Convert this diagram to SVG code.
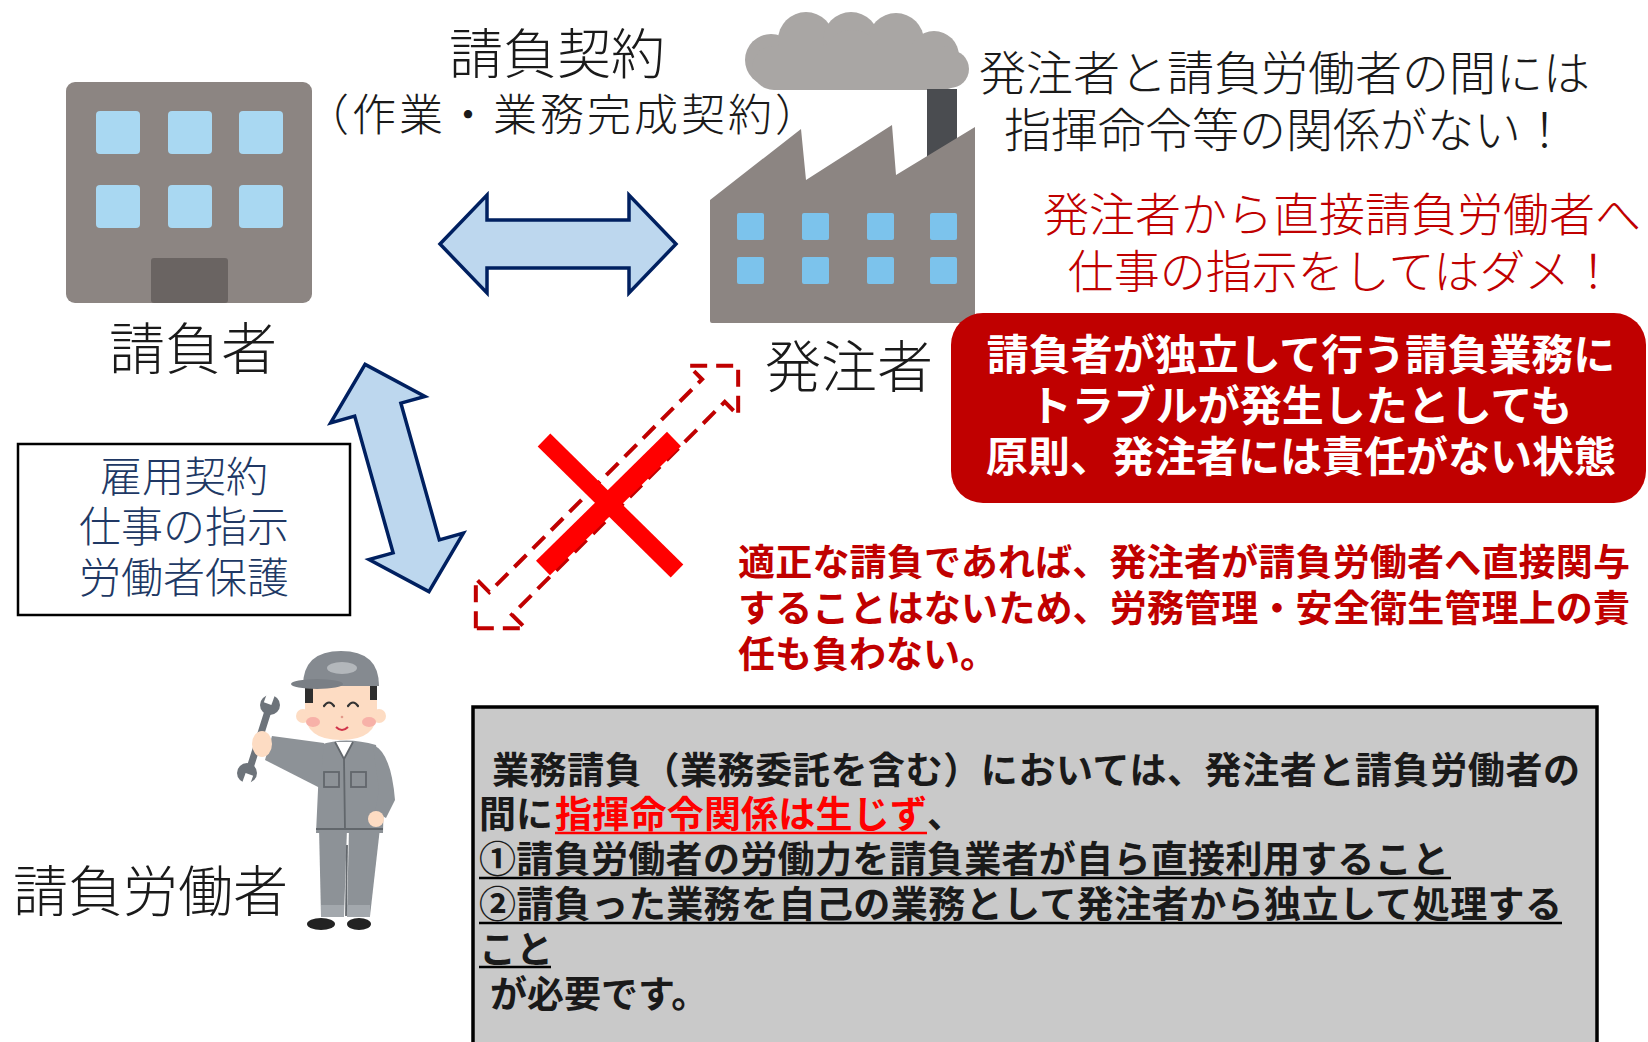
<svg xmlns="http://www.w3.org/2000/svg" width="1648" height="1042" viewBox="0 0 1648 1042">
  <style>
    text { font-family: "Noto Sans CJK JP", "Noto Sans CJK SC", sans-serif; }
    .lt { font-weight: 300; }
    .bd { font-weight: 700; }
    .ink { fill: #1a1a1a; }
    .navy { fill: #203864; }
    .dred { fill: #c00000; }
    .white { fill: #ffffff; }
    .red { fill: #ff0000; }
    .bigarrow { fill: #bdd7ee; stroke: #002060; stroke-width: 3.5; stroke-linejoin: miter; }
    .dash { fill: none; stroke: #c00000; stroke-width: 4; stroke-dasharray: 17 9; }
    .cross { stroke: #ff0000; stroke-linecap: butt; }
    .wall { fill: #8c8582; }
    .win1 { fill: #a9d8f2; }
    .win2 { fill: #7cc3ec; }
    .smoke { fill: #a9a6a4; }
    .suit { fill: #8d9297; }
    .seam { fill: none; stroke: #62676c; stroke-width: 1.8; }
    .skin { fill: #fddcc3; }
    .uline { stroke-width: 2.5; }
  </style>
  <defs>
    <path id="dbl" d="M -118,0 L -71,-49 L -71,-24 L 71,-24 L 71,-49 L 118,0 L 71,49 L 71,24 L -71,24 L -71,49 Z"/>
  </defs>

  <rect x="0" y="0" width="1648" height="1042" fill="#ffffff"/>

  <!-- contractor: office building -->
  <g id="contractor">
    <rect class="wall" x="66" y="82" width="246" height="221" rx="9"/>
    <rect class="win1" x="96" y="111" width="44" height="43" rx="4"/>
    <rect class="win1" x="168" y="111" width="44" height="43" rx="4"/>
    <rect class="win1" x="239" y="111" width="44" height="43" rx="4"/>
    <rect class="win1" x="96" y="185" width="44" height="43" rx="4"/>
    <rect class="win1" x="168" y="185" width="44" height="43" rx="4"/>
    <rect class="win1" x="239" y="185" width="44" height="43" rx="4"/>
    <rect x="151" y="258" width="77" height="45" rx="3" fill="#6a6462"/>
    <text class="lt ink" x="193" y="369" font-size="56" text-anchor="middle">請負者</text>
  </g>

  <!-- client: factory with smoke -->
  <g id="client">
    <g class="smoke">
      <circle cx="771" cy="60" r="26"/>
      <circle cx="806" cy="40" r="28"/>
      <circle cx="851" cy="40" r="28"/>
      <circle cx="896" cy="41" r="28"/>
      <circle cx="934" cy="56" r="25"/>
      <circle cx="950" cy="69" r="19"/>
      <circle cx="852" cy="60" r="30"/>
      <rect x="752" y="46" width="212" height="44" rx="22"/>
    </g>
    <rect x="927" y="89" width="30" height="75" fill="#4a4c50"/>
    <path class="wall" d="M 710,200 L 801,129 L 806,180 L 892,125 L 896,175 L 975,127 L 975,322 Q 975,323 973,323 L 712,323 Q 710,323 710,321 Z"/>
    <rect class="win2" x="737" y="213" width="27" height="27" rx="2"/>
    <rect class="win2" x="802" y="213" width="27" height="27" rx="2"/>
    <rect class="win2" x="867" y="213" width="27" height="27" rx="2"/>
    <rect class="win2" x="930" y="213" width="27" height="27" rx="2"/>
    <rect class="win2" x="737" y="257" width="27" height="27" rx="2"/>
    <rect class="win2" x="802" y="257" width="27" height="27" rx="2"/>
    <rect class="win2" x="867" y="257" width="27" height="27" rx="2"/>
    <rect class="win2" x="930" y="257" width="27" height="27" rx="2"/>
    <text class="lt ink" x="849" y="387" font-size="56" text-anchor="middle">発注者</text>
  </g>

  <!-- contract label -->
  <g id="contract-label">
    <text class="lt ink" x="557" y="74" font-size="54" text-anchor="middle">請負契約</text>
    <text class="lt ink" x="305" y="131" font-size="44" textLength="514">（作業・業務完成契約）</text>
  </g>

  <!-- notes on the right -->
  <g id="note-relation">
    <text class="lt ink" x="979" y="90" font-size="47">発注者と請負労働者の間には</text>
    <text class="lt ink" x="1004" y="147" font-size="47">指揮命令等の関係がない！</text>
  </g>
  <g id="note-warning">
    <text class="lt dred" x="1342" y="231" font-size="46" text-anchor="middle">発注者から直接請負労働者へ</text>
    <text class="lt dred" x="1342" y="288" font-size="46" text-anchor="middle">仕事の指示をしてはダメ！</text>
  </g>

  <g id="red-box">
    <rect x="951" y="313" width="695" height="190" rx="32" fill="#c00000"/>
    <text class="bd white" x="1301" y="370" font-size="42" text-anchor="middle">請負者が独立して行う請負業務に</text>
    <text class="bd white" x="1301" y="421" font-size="42" text-anchor="middle">トラブルが発生したとしても</text>
    <text class="bd white" x="1301" y="472" font-size="42" text-anchor="middle">原則、発注者には責任がない状態</text>
  </g>

  <g id="red-paragraph">
    <text class="bd dred" x="738" y="576" font-size="37" textLength="892">適正な請負であれば、発注者が請負労働者へ直接関与</text>
    <text class="bd dred" x="738" y="622" font-size="37" textLength="892">することはないため、労務管理・安全衛生管理上の責</text>
    <text class="bd dred" x="738" y="668" font-size="37">任も負わない。</text>
  </g>

  <!-- employment relation box -->
  <g id="employment-box">
    <rect x="18" y="444" width="332" height="171" fill="#ffffff" stroke="#000000" stroke-width="2.5"/>
    <text class="lt navy" x="184" y="492" font-size="42" text-anchor="middle">雇用契約</text>
    <text class="lt navy" x="184" y="542" font-size="42" text-anchor="middle">仕事の指示</text>
    <text class="lt navy" x="184" y="593" font-size="42" text-anchor="middle">労働者保護</text>
  </g>

  <!-- worker figure -->
  <g id="worker">
    <!-- wrench -->
    <g fill="#6d737a">
      <line x1="268" y1="711" x2="250" y2="768" stroke="#6d737a" stroke-width="7" stroke-linecap="round"/>
      <circle cx="270" cy="705" r="10"/>
      <circle cx="247" cy="773" r="10"/>
      <rect x="266" y="690" width="8" height="14" fill="#ffffff" transform="rotate(20 270 697)"/>
      <rect x="243" y="774" width="8" height="14" fill="#ffffff" transform="rotate(20 247 781)"/>
    </g>
    <!-- legs -->
    <path class="suit" d="M 319,828 L 347,828 L 344,916 L 321,916 Z"/>
    <path class="suit" d="M 349,828 L 380,828 L 370,916 L 347,916 Z"/>
    <rect x="321" y="905" width="23" height="12" fill="#a3a8ad"/>
    <rect x="347" y="905" width="23" height="12" fill="#a3a8ad"/>
    <line class="seam" x1="347" y1="845" x2="346" y2="916"/>
    <ellipse cx="321" cy="924" rx="14" ry="6" fill="#222222"/>
    <ellipse cx="359" cy="924" rx="12" ry="6" fill="#222222"/>
    <!-- torso and sleeves -->
    <path class="suit" d="M 320,745 Q 345,736 376,745 L 384,790 L 383,833 L 316,833 L 318,790 Z"/>
    <path class="suit" d="M 373,745 Q 391,752 395,800 L 386,818 L 375,812 L 379,790 Z"/>
    <path class="suit" d="M 324,743 L 272,736 L 265,760 L 320,788 Z"/>
    <polygon points="335,742 353,742 344,759" fill="#ffffff"/>
    <path class="seam" d="M 335,742 L 344,759 L 353,742 M 344,759 L 345,830 M 316,829 L 383,829"/>
    <rect class="seam" x="324" y="772" width="15" height="15"/>
    <rect class="seam" x="351" y="772" width="15" height="15"/>
    <!-- hands -->
    <ellipse class="skin" cx="262" cy="744" rx="10" ry="13"/>
    <ellipse class="skin" cx="376" cy="819" rx="8" ry="8"/>
    <!-- head -->
    <circle class="skin" cx="303" cy="716" r="7"/>
    <circle class="skin" cx="379" cy="716" r="7"/>
    <path class="skin" d="M 305,683 L 377,683 L 377,712 Q 377,740 341,740 Q 305,740 305,712 Z"/>
    <rect x="305" y="683" width="8" height="20" fill="#2e2e2e"/>
    <rect x="370" y="683" width="7" height="17" fill="#2e2e2e"/>
    <ellipse cx="313" cy="722" rx="7" ry="5" fill="#f7b1a8"/>
    <ellipse cx="369" cy="722" rx="7" ry="5" fill="#f7b1a8"/>
    <path d="M 324,706 Q 329,699 334,706 M 348,706 Q 353,699 358,706" fill="none" stroke="#333333" stroke-width="2.2" stroke-linecap="round"/>
    <circle cx="342" cy="717" r="1.3" fill="#e39a8a"/>
    <path d="M 336,727 Q 342,733 348,727" fill="none" stroke="#d0344a" stroke-width="2"/>
    <!-- cap -->
    <path d="M 303,686 Q 303,651 341,651 Q 379,651 379,686 Z" fill="#858a90"/>
    <ellipse cx="317" cy="684" rx="26" ry="5" fill="#7a7f85"/>
    <ellipse cx="342" cy="668" rx="15" ry="6" fill="#b3b7bb"/>
    <text class="lt ink" x="13" y="911" font-size="55">請負労働者</text>
  </g>

  <!-- summary box -->
  <g id="summary-box">
    <rect x="473" y="707" width="1124" height="400" fill="#c9c9c9" stroke="#000000" stroke-width="3.5"/>
    <text class="bd ink" x="492" y="784" font-size="37" textLength="1088">業務請負（業務委託を含む）においては、発注者と請負労働者の</text>
    <text class="bd ink" x="479" y="828" font-size="37">間に</text>
    <text class="bd red" x="555" y="828" font-size="37" textLength="372">指揮命令関係は生じず</text>
    <text class="bd ink" x="927" y="828" font-size="37">、</text>
    <line class="uline" x1="555" y1="833" x2="927" y2="833" stroke="#ff0000"/>
    <text class="bd ink" x="479" y="873" font-size="37" textLength="970">①請負労働者の労働力を請負業者が自ら直接利用すること</text>
    <line class="uline" x1="479" y1="878" x2="1451" y2="878" stroke="#000000"/>
    <text class="bd ink" x="479" y="918" font-size="37" textLength="1083">②請負った業務を自己の業務として発注者から独立して処理する</text>
    <line class="uline" x1="479" y1="923" x2="1562" y2="923" stroke="#000000"/>
    <text class="bd ink" x="479" y="963" font-size="37">こと</text>
    <line class="uline" x1="479" y1="967" x2="551" y2="967" stroke="#000000"/>
    <text class="bd ink" x="490" y="1008" font-size="37">が必要です。</text>
  </g>

  <!-- connectors -->
  <g id="connectors">
    <use href="#dbl" class="bigarrow" transform="translate(558 244)"/>
    <use href="#dbl" class="bigarrow" transform="translate(397 478) rotate(74.3)"/>
    <path class="dash" transform="translate(607 497) rotate(-45)" d="M -185.5,0 L -150.5,-35 L -150.5,-16 L 150.5,-16 L 150.5,-35 L 185.5,0 L 150.5,35 L 150.5,16 L -150.5,16 L -150.5,35 Z"/>
    <line class="cross" x1="544" y1="440" x2="677" y2="571" stroke-width="18"/>
    <line class="cross" x1="543" y1="568" x2="674" y2="439" stroke-width="20"/>
  </g>
</svg>
